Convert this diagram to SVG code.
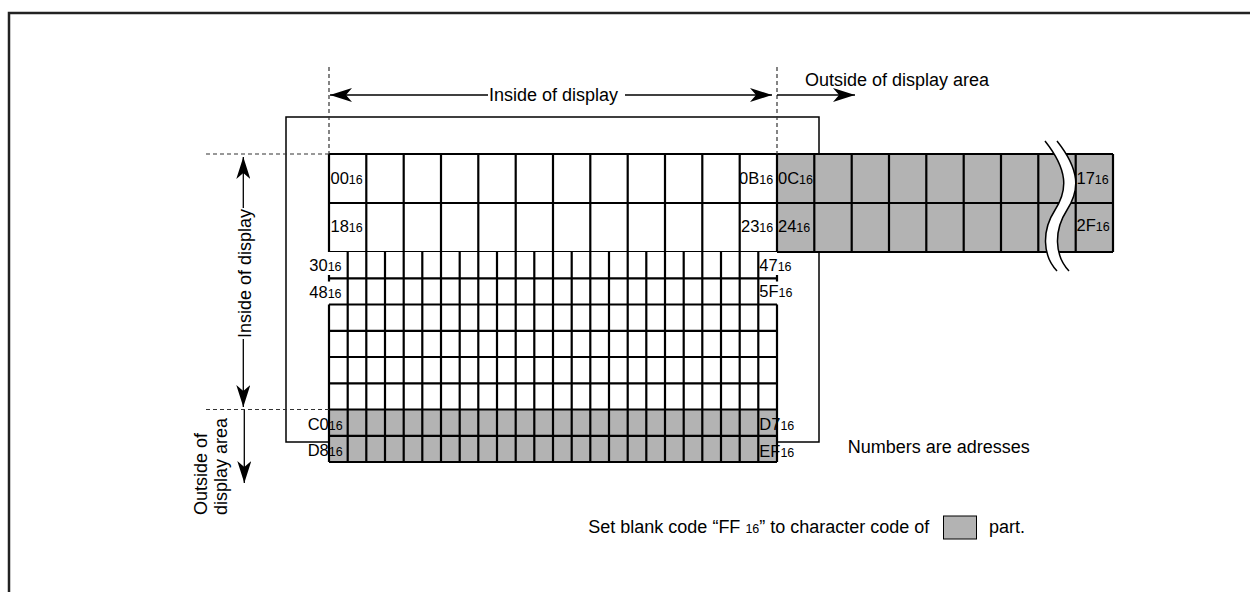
<svg xmlns="http://www.w3.org/2000/svg" width="1250" height="592" viewBox="0 0 1250 592">
<style>
text{font-family:"Liberation Sans",Arial,sans-serif;fill:#000}
.t{font-size:18px}
.l{font-size:16.5px}
.s{font-size:12.5px}
.grid{stroke:#000;stroke-width:2.2;fill:none}
.thin{stroke:#000;stroke-width:1.5;fill:none}
.dash{stroke:#333;stroke-width:1.2;stroke-dasharray:4 3;fill:none}
.arr{stroke:#000;stroke-width:1.3;fill:none;marker-end:url(#ah)}
.gray{fill:#b3b3b3}
</style>
<defs>
<marker id="ah" viewBox="0 0 22 14" refX="22" refY="7" markerWidth="22" markerHeight="14" markerUnits="userSpaceOnUse" orient="auto-start-reverse">
<path d="M0,0 L22,7 L0,14 L6,7 Z" fill="#000"/>
</marker>
</defs>
<rect width="1250" height="592" fill="#fff"/>
<path d="M9,592 V13 H1250" stroke="#222" stroke-width="2.5" fill="none"/>

<g id="display-frame">
<rect x="286" y="117" width="533" height="325" class="thin"/>
</g>

<g id="grid-big">
<rect x="329" y="154" width="448" height="98" fill="#fff"/>
<rect x="777" y="154" width="336" height="98" class="gray"/>
<path class="grid" d="M329,154 H1113 M329,203 H1113 M329,252 H1113
M329,154 V252 M366.3,154 V252 M403.7,154 V252 M441,154 V252 M478.3,154 V252 M515.7,154 V252 M553,154 V252 M590.3,154 V252 M627.7,154 V252 M665,154 V252 M702.3,154 V252 M739.7,154 V252 M777,154 V252
M814.3,154 V252 M851.7,154 V252 M889,154 V252 M926.3,154 V252 M963.7,154 V252 M1001,154 V252 M1038.3,154 V252 M1075.7,154 V252 M1113,154 V252"/>
</g>

<g id="break">
<path d="M1045,141 C1068,170 1068,190 1055,210 C1042,230 1042,255 1057,271 L1069,271 C1054,255 1054,230 1067,210 C1080,190 1080,170 1057,141 Z" fill="#fff"/>
<path d="M1045,141 C1068,170 1068,190 1055,210 C1042,230 1042,255 1057,271" stroke="#000" stroke-width="1.5" fill="none"/>
<path d="M1057,141 C1080,170 1080,190 1067,210 C1054,230 1054,255 1069,271" stroke="#000" stroke-width="1.5" fill="none"/>
</g>

<g id="grid-small">
<rect x="329" y="252" width="448" height="158" fill="#fff"/>
<rect x="329" y="409.5" width="448" height="52.5" class="gray"/>
<path class="grid" d="M329,278.3 H777 M329,304.5 H777 M329,330.8 H777 M329,357 H777 M329,383.3 H777 M329,409.5 H777 M329,435.8 H777 M329,462 H777
M329,304.5 V462 M777,304.5 V462
M329,275 V281.5 M777,275 V281.5
M347.7,252 V462 M366.3,252 V462 M385,252 V462 M403.7,252 V462 M422.3,252 V462 M441,252 V462 M459.7,252 V462 M478.3,252 V462 M497,252 V462 M515.7,252 V462 M534.3,252 V462 M553,252 V462 M571.7,252 V462 M590.3,252 V462 M609,252 V462 M627.7,252 V462 M646.3,252 V462 M665,252 V462 M683.7,252 V462 M702.3,252 V462 M721,252 V462 M739.7,252 V462 M758.3,252 V462"/>
</g>

<g id="labels">
<text class="l" x="330.5" y="184">00<tspan class="s">16</tspan></text>
<text class="l" x="330.5" y="232">18<tspan class="s">16</tspan></text>
<text class="l" x="739" y="184">0B<tspan class="s">16</tspan></text>
<text class="l" x="741" y="232">23<tspan class="s">16</tspan></text>
<text class="l" x="778" y="184">0C<tspan class="s">16</tspan></text>
<text class="l" x="778" y="232">24<tspan class="s">16</tspan></text>
<text class="l" x="1076.5" y="184">17<tspan class="s">16</tspan></text>
<text class="l" x="1076.5" y="231">2F<tspan class="s">16</tspan></text>
<text class="l" x="309.3" y="271">30<tspan class="s">16</tspan></text>
<text class="l" x="309.3" y="297.5">48<tspan class="s">16</tspan></text>
<text class="l" x="759.3" y="270.5">47<tspan class="s">16</tspan></text>
<text class="l" x="759.3" y="297">5F<tspan class="s">16</tspan></text>
<text class="l" x="307.7" y="429.5">C0<tspan class="s">16</tspan></text>
<text class="l" x="307.7" y="456">D8<tspan class="s">16</tspan></text>
<text class="l" x="759.3" y="429.5">D7<tspan class="s">16</tspan></text>
<text class="l" x="759.3" y="456.5">EF<tspan class="s">16</tspan></text>
</g>

<g id="connectors">
<path class="dash" d="M329,67 V154 M777,67 V154 M206,154 H329 M206,409.5 H329"/>
<path class="arr" d="M488,95 H330"/>
<path class="arr" d="M625,95 H772"/>
<path class="arr" d="M777,95 H855"/>
<path class="arr" d="M243.3,208 V157"/>
<path class="arr" d="M243.3,339 V407"/>
<path class="arr" d="M244.3,410 V483"/>
</g>

<g id="annotations">
<text class="t" x="489" y="100.5">Inside of display</text>
<text class="t" x="805" y="85.5">Outside of display area</text>
<text class="t" transform="translate(250.7,273.5) rotate(-90)" text-anchor="middle">Inside of display</text>
<text class="t" transform="translate(206.7,515) rotate(-90)">Outside of</text>
<text class="t" transform="translate(226.7,515) rotate(-90)">display area</text>
<text class="t" x="847.7" y="453.3">Numbers are adresses</text>
</g>

<g id="legend">
<text class="t" x="588.3" y="533.3">Set blank code “FF <tspan class="s">16</tspan>” to character code of</text>
<rect x="943.5" y="516" width="33" height="23" class="gray" stroke="#000" stroke-width="1"/>
<text class="t" x="989" y="533.3">part.</text>
</g>
</svg>
